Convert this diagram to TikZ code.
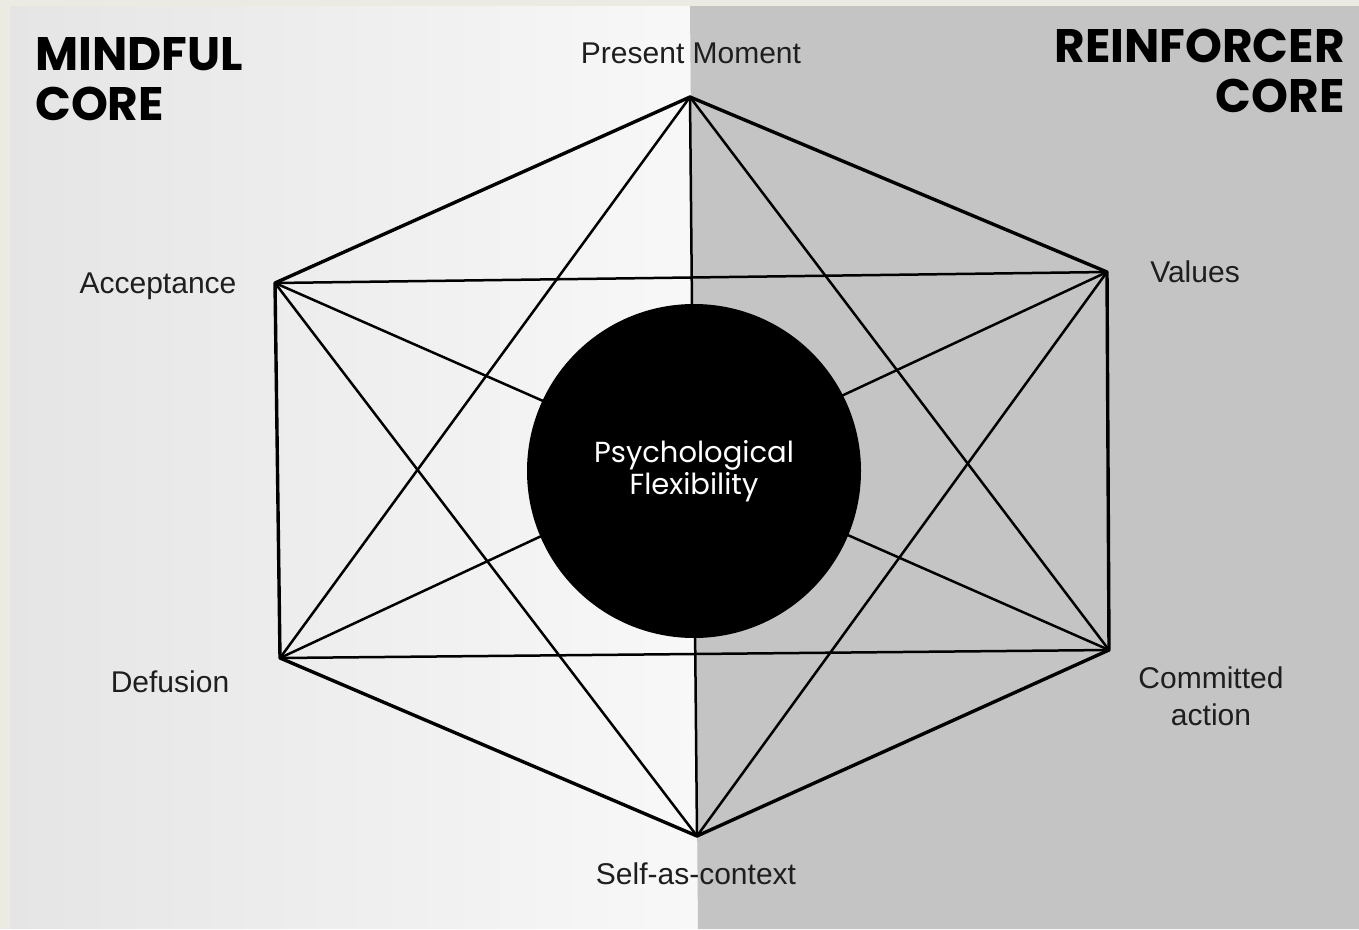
\documentclass[tikz,border=0pt]{standalone}
\usepackage{fontspec}
\setmainfont{Liberation Sans}
\newfontfamily\corefont{Poppins}
\usetikzlibrary{positioning}
\definecolor{paperedge}{RGB}{236,235,227}
\definecolor{mindfulbg}{RGB}{229,229,229}
\definecolor{mindfulhi}{RGB}{248,248,248}
\definecolor{reinforcebg}{RGB}{196,196,196}
\definecolor{labelgray}{RGB}{30,30,30}
\tikzset{
  process/.style={font=\fontsize{30}{37}\selectfont, text=labelgray, inner sep=0pt, align=center},
  corelabel/.style={font=\corefont\bfseries\fontsize{47}{50}\selectfont, inner sep=0pt, align=left},
  hexedge/.style={draw=black, line width=3.4pt, line join=round},
  crossline/.style={draw=black, line width=2.5pt},
  hub/.style={circle, fill=black, minimum size=334pt, inner sep=0pt, align=center,
    text=white, font=\corefont\fontsize{29}{32}\selectfont}
}

\begin{document}
\begin{tikzpicture}[x=1pt,y=-1pt]
  % paper and the two cores
  \fill[paperedge] (0,0) rectangle (1359,929);
  \shade[left color=mindfulbg, right color=mindfulhi] (10,6) -- (690,6) -- (698,929) -- (10,929) -- cycle;
  \fill[reinforcebg] (690,6) -- (1359,6) -- (1359,929) -- (698,929) -- cycle;
  \useasboundingbox (0,0) rectangle (1359,929);

  % the six processes
  \coordinate (pm)  at (690,97);
  \coordinate (val) at (1107,272);
  \coordinate (ca)  at (1109,650);
  \coordinate (sc)  at (697,836);
  \coordinate (def) at (280,658);
  \coordinate (acc) at (275,283);

  \foreach \a/\b in {pm/ca, pm/sc, pm/def, val/sc, val/def, val/acc, ca/def, ca/acc, sc/acc}{
    \draw[crossline] (\a) -- (\b);
  }
  \draw[hexedge] (pm) -- (val) -- (ca) -- (sc) -- (def) -- (acc) -- cycle;

  \node[hub] (flex) at (694,471) {Psychological\\Flexibility};

  \node[process, anchor=base] (pmtext)  at (691,63)  {Present Moment};
  \node[process, anchor=base] (valtext) at (1195,282) {Values};
  \node[process, anchor=base] (catext)  at (1211,725) {Committed\\action};
  \node[process, anchor=base] (sctext)  at (696,884) {Self-as-context};
  \node[process, anchor=base] (deftext) at (170,692) {Defusion};
  \node[process, anchor=base] (acctext) at (158,293) {Acceptance};

  \node[corelabel, anchor=base west] (mindful) at (35,120) {MINDFUL\\CORE};
  \node[corelabel, anchor=base east, align=right] (reinforcer) at (1345,112) {REINFORCER\\CORE};
\end{tikzpicture}
\end{document}
